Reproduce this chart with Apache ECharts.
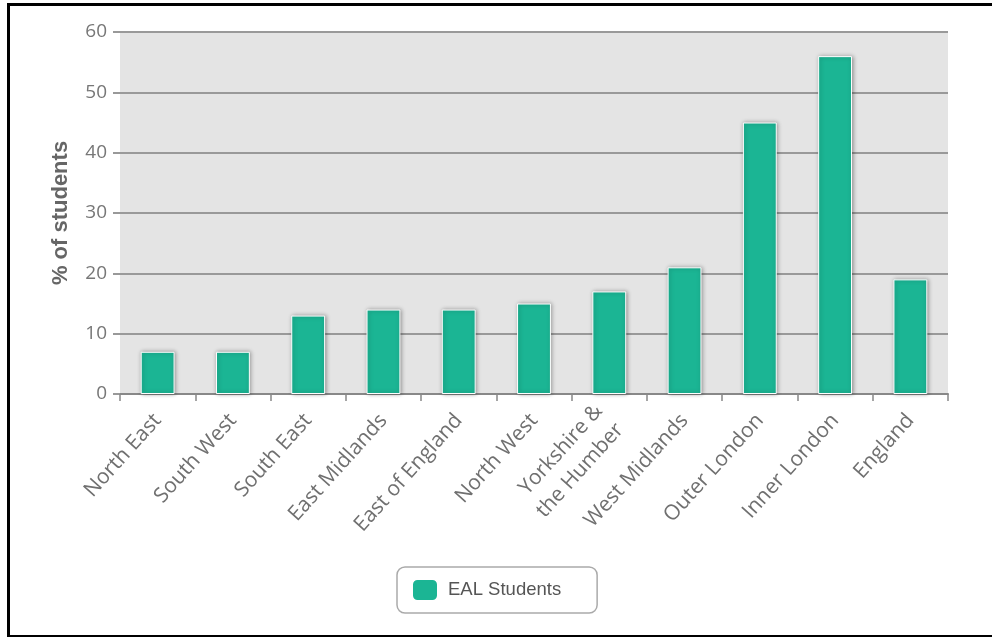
<!DOCTYPE html>
<html>
<head>
<meta charset="utf-8">
<script src="https://cdn.jsdelivr.net/npm/echarts@6/dist/echarts.min.js"></script>
<style>
html,body{margin:0;padding:0;background:#fff;overflow:hidden;}
#frame{position:absolute;left:7px;top:3px;width:1000px;height:629px;border:3px solid #000;box-sizing:content-box;}
#chart{position:absolute;left:0;top:0;width:992px;height:637px;}
</style>
</head>
<body>
<div id="frame"></div>
<div id="chart"></div>
<script>
const categories = ['North East','South West','South East','East Midlands','East of England','North West','Yorkshire &\nthe Humber','West Midlands','Outer London','Inner London','England'];
const ealValues = [7, 7, 13, 14, 14, 15, 17, 21, 45, 56, 19];
const yTicks = [0, 10, 20, 30, 40, 50, 60];
const seriesName = 'EAL Students';

const chart = echarts.init(document.getElementById('chart'), null, {renderer:'canvas'});
chart.setOption({
  animation:false,
  grid:{left:120, right:44, top:32, bottom:243, show:true, backgroundColor:'#e4e4e4', borderWidth:0},
  legend:{
    show:true, data:[seriesName], left:397, top:567,
    itemWidth:26, itemHeight:22, itemGap:10,
    icon:'roundRect',
    borderColor:'#aaa', borderWidth:1.5, borderRadius:8,
    padding:[11,36,11,14],
    textStyle:{fontFamily:'Liberation Sans, Arial, sans-serif', fontSize:18.5, color:'#555', padding:[0,0,0,5]}
  },
  xAxis:{
    type:'category', data:categories,
    axisLine:{lineStyle:{color:'#888', width:2}},
    axisTick:{show:true, length:7, lineStyle:{color:'#888', width:1.5}},
    axisLabel:{rotate:48, interval:0, fontFamily:'Open Sans, sans-serif', fontSize:21, color:'#707070', margin:23, lineHeight:28}
  },
  yAxis:{
    type:'value', min:yTicks[0], max:yTicks[yTicks.length-1], interval:10,
    name:'% of students', nameLocation:'middle', nameGap:48,
    nameTextStyle:{fontFamily:'Liberation Sans, Arial, sans-serif', fontSize:22, fontWeight:'bold', color:'#666'},
    axisLine:{show:false},
    axisTick:{show:true, length:7, lineStyle:{color:'#999', width:2}},
    axisLabel:{fontFamily:'Open Sans, sans-serif', fontSize:19, color:'#777', margin:13},
    splitLine:{lineStyle:{color:'#999', width:2}}
  },
  series:[{
    name:seriesName, type:'bar', data:ealValues, barWidth:'45%',
    itemStyle:{color:'#1bb594', borderColor:'#fff', borderWidth:1, shadowBlur:4, shadowColor:'rgba(0,0,0,0.35)', shadowOffsetX:1, shadowOffsetY:0}
  }]
});
</script>
</body>
</html>
